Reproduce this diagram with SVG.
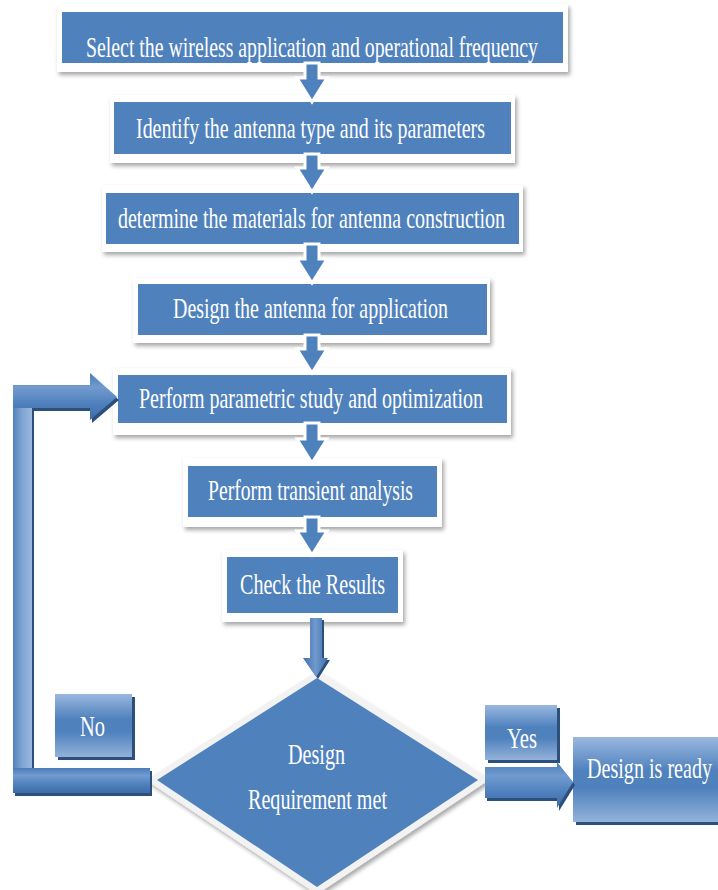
<svg xmlns="http://www.w3.org/2000/svg" width="718" height="890" viewBox="0 0 718 890">
<style>
.frame{fill:#fff;filter:url(#sh)}
.blue{fill:#4f81bd}
.t{font-family:"Liberation Serif","Times New Roman",serif;font-size:30px;fill:#fff}
.arr{fill:#4f81bd;stroke:#fff;stroke-width:3;stroke-linejoin:miter}
.dk{fill:#2c4f7c}
</style>
<defs>
<filter id="sh" x="-10%" y="-20%" width="120%" height="150%">
<feDropShadow dx="2" dy="3" stdDeviation="2" flood-color="#000" flood-opacity="0.35"/>
</filter>
<linearGradient id="gV" x1="0" y1="0" x2="0" y2="1">
<stop offset="0" stop-color="#9ab8df"/>
<stop offset="0.4" stop-color="#4f81bd"/>
<stop offset="0.6" stop-color="#4f81bd"/>
<stop offset="1" stop-color="#93b2da"/>
</linearGradient>
<linearGradient id="gBarH" x1="0" y1="0" x2="0" y2="1">
<stop offset="0" stop-color="#4a7bb8"/>
<stop offset="0.3" stop-color="#729bcf"/>
<stop offset="0.65" stop-color="#4f81bd"/>
<stop offset="1" stop-color="#3d6ca8"/>
</linearGradient>
<linearGradient id="gBarV" x1="0" y1="0" x2="1" y2="0">
<stop offset="0" stop-color="#4f81bd"/>
<stop offset="0.45" stop-color="#7ea2d2"/>
<stop offset="1" stop-color="#9ab8df"/>
</linearGradient>
<linearGradient id="gDown" x1="0" y1="0" x2="1" y2="0">
<stop offset="0" stop-color="#3f6fab"/>
<stop offset="0.5" stop-color="#7099cd"/>
<stop offset="1" stop-color="#3f6fab"/>
</linearGradient>
</defs>
<rect width="718" height="890" fill="#fff"/>

<g id="n1">
<rect class="frame" x="57" y="4" width="511" height="68"/>
<rect class="blue" x="62" y="12" width="501" height="51"/>
<text class="t" x="86" y="57" textLength="452" lengthAdjust="spacingAndGlyphs">Select the wireless application and operational frequency</text>
</g>
<g id="n2">
<rect class="frame" x="110" y="95" width="405" height="68"/>
<rect class="blue" x="114" y="102" width="397" height="52"/>
<text class="t" x="136" y="138" textLength="349" lengthAdjust="spacingAndGlyphs">Identify the antenna type and its parameters</text>
</g>
<g id="n3">
<rect class="frame" x="102" y="185" width="421" height="67"/>
<rect class="blue" x="106" y="193" width="413" height="51"/>
<text class="t" x="118" y="228" textLength="387" lengthAdjust="spacingAndGlyphs">determine the materials for antenna construction</text>
</g>
<g id="n4">
<rect class="frame" x="133" y="278" width="357" height="65"/>
<rect class="blue" x="138" y="284" width="349" height="51"/>
<text class="t" x="173" y="318" textLength="275" lengthAdjust="spacingAndGlyphs">Design the antenna for application</text>
</g>
<g id="n5">
<rect class="frame" x="113" y="368" width="398" height="67"/>
<rect class="blue" x="118" y="375" width="389" height="48"/>
<text class="t" x="139" y="408" textLength="344" lengthAdjust="spacingAndGlyphs">Perform parametric study and optimization</text>
</g>
<g id="n6">
<rect class="frame" x="183" y="458" width="259" height="69"/>
<rect class="blue" x="188" y="466" width="249" height="51"/>
<text class="t" x="208" y="500" textLength="205" lengthAdjust="spacingAndGlyphs">Perform transient analysis</text>
</g>
<g id="n7">
<rect class="frame" x="222" y="550" width="181" height="72"/>
<rect class="blue" x="227" y="557" width="171" height="56"/>
<text class="t" x="240" y="594" textLength="145" lengthAdjust="spacingAndGlyphs">Check the Results</text>
</g>

<g id="decision">
<polygon points="317,678 478,780 317,887 157,780" fill="#fff" stroke="#f2f2f2" stroke-width="12" stroke-linejoin="miter" filter="url(#sh)"/>
<polygon class="blue" points="317,678 478,780 317,887 157,780"/>
<text class="t" x="288" y="764" textLength="57" lengthAdjust="spacingAndGlyphs">Design</text>
<text class="t" x="248" y="809" textLength="139" lengthAdjust="spacingAndGlyphs">Requirement met</text>
</g>

<g id="no">
<rect class="dk" x="58" y="697" width="77" height="63"/>
<rect x="55" y="694" width="77" height="63" fill="url(#gV)"/>
<text class="t" x="80" y="736" textLength="25" lengthAdjust="spacingAndGlyphs">No</text>
</g>
<g id="yes">
<rect class="dk" x="488" y="708" width="72" height="55"/>
<rect x="485" y="705" width="72" height="55" fill="url(#gV)"/>
<text class="t" x="507" y="748" textLength="30" lengthAdjust="spacingAndGlyphs">Yes</text>
</g>
<g id="ready">
<rect class="dk" x="576" y="740" width="142" height="85"/>
<rect x="573" y="737" width="145" height="85" fill="url(#gV)"/>
<text class="t" x="587" y="778" textLength="125" lengthAdjust="spacingAndGlyphs">Design is ready</text>
</g>

<g id="connectors">
<path class="arr" d="M305,63 L319,63 L319,78 L327,78 L312,102 L297,78 L305,78 Z"/>
<path class="arr" d="M305,154 L319,154 L319,168 L327,168 L312,192 L297,168 L305,168 Z"/>
<path class="arr" d="M305,244 L319,244 L319,259 L327,259 L312,283 L297,259 L305,259 Z"/>
<path class="arr" d="M305,335 L319,335 L319,349 L327,349 L312,373 L297,349 L305,349 Z"/>
<path class="arr" d="M305,423 L319,423 L319,439 L327,439 L312,463 L297,439 L305,439 Z"/>
<path class="arr" d="M305,517 L319,517 L319,531 L327,531 L312,555 L297,531 L305,531 Z"/>

<path d="M312,620 L324,620 L324,660 L330,660 L318,679 L305,660 L312,660 Z" fill="#2c4f7c"/>
<path d="M310,618 L322,618 L322,658 L328,658 L316,677 L303,658 L310,658 Z" fill="url(#gDown)"/>

<path d="M15,388 L92,388 L92,376 L119,400 L92,423 L92,411 L34,411 L34,771 L152,771 L152,796 L15,796 Z" class="dk"/>
<rect x="13" y="385" width="19" height="400" fill="url(#gBarV)"/>
<path d="M13,385 L90,385 L90,373 L117,397 L90,420 L90,408 L13,408 Z" fill="url(#gBarH)"/>
<rect x="13" y="768" width="137" height="25" fill="url(#gBarH)"/>

<path d="M487,770 L559,770 L559,765 L575,785 L559,811 L559,801 L487,801 Z" class="dk"/>
<path d="M485,767 L557,767 L557,762 L573,782 L557,808 L557,798 L485,798 Z" fill="url(#gBarH)"/>
</g>
</svg>
